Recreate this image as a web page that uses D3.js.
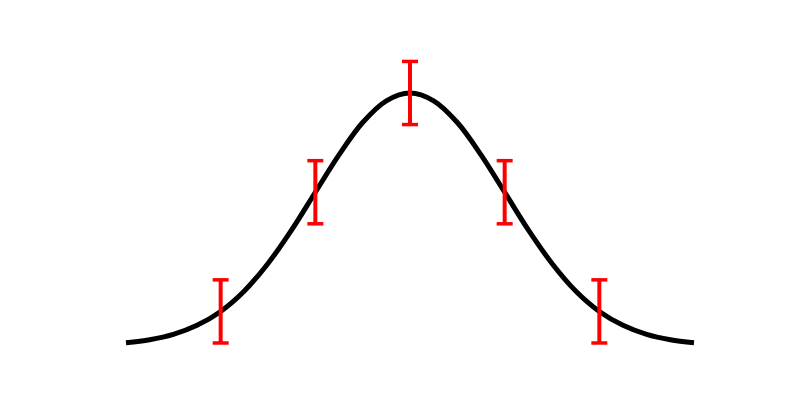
<!DOCTYPE html>
<html>
<head>
<meta charset="utf-8">
<script src="https://cdn.jsdelivr.net/npm/d3@7"></script>
<style>
html,body{margin:0;padding:0;background:#fff;}
svg{display:block;}
</style>
</head>
<body>
<svg id="chart" width="800" height="400"></svg>
<script>
// Curve samples
const curveX = [-3,-2.75,-2.5,-2.25,-2,-1.75,-1.5,-1.25,-1,-0.75,-0.5,-0.25,0,0.25,0.5,0.75,1,1.25,1.5,1.75,2,2.25,2.5,2.75,3];
const curveY = [0.011,0.023,0.044,0.080,0.135,0.216,0.325,0.458,0.607,0.755,0.883,0.969,1.0,0.969,0.883,0.755,0.607,0.458,0.325,0.216,0.135,0.080,0.044,0.023,0.011];
// Error bar points
const errX = [-2,-1,0,1,2];
const errY = [0.135,0.607,1.0,0.607,0.135];
const errSize = [0.125,0.125,0.125,0.125,0.125];

const svg = d3.select("#chart");
const x = d3.scaleLinear().domain([-3,3]).range([126,694]);
const y = d3.scaleLinear().domain([0,1]).range([345.5,93]);

const pts = curveX.map((v,i)=>[v,curveY[i]]);
svg.append("path")
  .datum(pts)
  .attr("fill","none")
  .attr("stroke","#000")
  .attr("stroke-width",5)
  .attr("d", d3.line().x(d=>x(d[0])).y(d=>y(d[1])).curve(d3.curveCatmullRom));

const errs = errX.map((v,i)=>({x:v,y:errY[i],e:errSize[i]}));
const g = svg.append("g").attr("stroke","#ff0000").attr("fill","none");
const capW = 8;
errs.forEach(d=>{
  const cx = x(d.x), t = y(d.y + d.e), b = y(d.y - d.e);
  g.append("line").attr("x1",cx).attr("x2",cx).attr("y1",t).attr("y2",b).attr("stroke-width",4);
  g.append("line").attr("x1",cx-capW).attr("x2",cx+capW).attr("y1",t).attr("y2",t).attr("stroke-width",3.5);
  g.append("line").attr("x1",cx-capW).attr("x2",cx+capW).attr("y1",b).attr("y2",b).attr("stroke-width",3.5);
});
</script>
</body>
</html>
